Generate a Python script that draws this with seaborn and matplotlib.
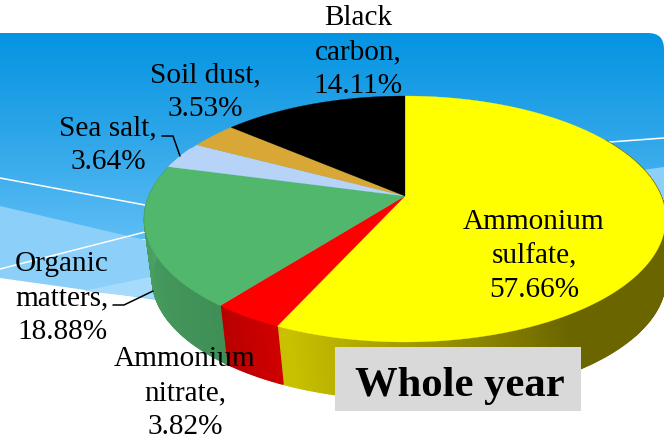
import numpy as np
import pandas as pd
import matplotlib
matplotlib.use('Agg')
import matplotlib.pyplot as plt
from matplotlib.patches import FancyBboxPatch, Polygon
import seaborn as sns

# dados
categorias = ['Ammonium\nsulfate', 'Ammonium\nnitrate', 'Organic\nmatters', 'Sea salt', 'Soil dust', 'Black\ncarbon']
valores = [57.66, 3.82, 18.88, 3.64, 3.53, 14.11]

cores = ['#FFFF00', '#FF0000', '#50B76C', '#B7D3F7', '#D8A735', '#000000']
cores_lado = ['#6B6500', '#B80000', '#459A5C', '#B7D3F7', '#D8A735', '#000000']
pos_texto = [(534, 256), (185, 393), (62, 298), (108, 145), (205, 92), (358, 52)]

df = pd.DataFrame({'categoria': categorias, 'valor': valores})
df['fim'] = df['valor'].cumsum() * 3.6
df['inicio'] = df['fim'] - df['valor'] * 3.6

sns.set_theme(style='white')
plt.rcParams['font.family'] = ['Liberation Serif', 'DejaVu Serif']

fig = plt.figure(figsize=(6.64, 4.39), dpi=100)
ax = fig.add_axes([0, 0, 1, 1])
ax.set_xlim(0, 664)
ax.set_ylim(439, 0)
ax.axis('off')


def projeta(graus, escala=1.0, dx=0, dy=0):
    # perspectiva do disco: o angulo corre no sentido horario a partir do topo
    g = np.interp(graus, [0, 315.1, 360], [0, 310.4, 360])
    t = np.radians(90 - g)
    u, v = np.cos(t), np.sin(t)
    den = 1 + 0.187 * v
    x = 405 + dx + escala * 256 * u / den
    y = 197 + dy - escala * 118.7 * v / den
    return x, y


# fundo azul com gradiente
fundo = np.linspace(0, 1, 256).reshape(-1, 1)
cmap = matplotlib.colors.LinearSegmentedColormap.from_list('fundo', ['#0494E2', '#2EA6E9', '#5DBDF5'])
img = ax.imshow(fundo, extent=(0, 664, 240, 34), cmap=cmap, aspect='auto', zorder=0)
forma = FancyBboxPatch((-30, 34), 694, 300, boxstyle='round,pad=0,rounding_size=16',
                       transform=ax.transData, fc='none', ec='none')
ax.add_patch(forma)
img.set_clip_path(forma)

ax.add_patch(Polygon([(0, 207), (145, 241), (664, 168), (664, 262), (157, 301), (0, 279)],
                     fc='#8CCFF8', ec='none', zorder=1))
ax.add_patch(Polygon([(83, 292), (150, 278), (160, 300)], fc='#A6DBFB', ec='none', zorder=1))
ax.plot([0, 145, 300], [179, 206, 240], color='white', lw=1.1, zorder=2)
ax.plot([0, 145, 400, 610, 664], [270, 233, 175, 143, 139], color='white', lw=1.1, zorder=2)

# parede lateral, faixa por faixa para fazer o gradiente
for i, fatia in df.iterrows():
    ini, fim = max(fatia['inicio'], 60), min(fatia['fim'], 300)
    if ini >= fim:
        continue
    passos = np.linspace(ini, fim, int(fim - ini) * 2 + 2)
    base = np.array(matplotlib.colors.to_rgb(cores_lado[i]))
    for a, b in zip(passos[:-1], passos[1:]):
        xs1, ys1 = projeta(np.array([a, b]))
        xs2, ys2 = projeta(np.array([b, a]), 0.985, 4, 60)
        meio = (a + b) / 2
        if i == 0:
            # amarelo fica mais claro perto do vermelho
            f = np.clip((meio - 150) / 55, 0, 1)
            cor = base + f * (np.array(matplotlib.colors.to_rgb('#C8C000')) - base)
        elif i == 2:
            f = np.clip((meio - 222) / 60, 0, 1)
            cor = np.array(matplotlib.colors.to_rgb('#3F8F56')) * (1 - f) + np.array(matplotlib.colors.to_rgb('#4DA566')) * f
        elif i == 1:
            f = (meio - fatia['inicio']) / (fatia['fim'] - fatia['inicio'])
            cor = np.array(matplotlib.colors.to_rgb('#D00000')) * (1 - f) + base * f
        else:
            cor = base
        ax.fill(np.r_[xs1, xs2], np.r_[ys1, ys2], fc=cor, ec=cor, lw=1.0, zorder=3)

# tampo da pizza
for i, fatia in df.iterrows():
    passos = np.linspace(fatia['inicio'], fatia['fim'], 200)
    xs, ys = projeta(passos)
    ax.fill(np.r_[405, xs], np.r_[197, ys], color=sns.color_palette(cores)[i], lw=0.2, zorder=4)

# guias
ax.plot([162, 173, 180], [137, 137, 157], color='black', lw=1.1, zorder=5)
ax.plot([113, 124, 153], [306, 306, 292], color='black', lw=1.1, zorder=5)

# rotulos
for i, fatia in df.iterrows():
    texto = f"{fatia['categoria']},\n{fatia['valor']:.2f}%"
    ax.text(pos_texto[i][0], pos_texto[i][1], texto, ha='center', va='center', fontsize=21.1,
            linespacing=1.38, color='black', zorder=6)

ax.add_patch(Polygon([(335, 348), (581, 348), (581, 412), (335, 412)], fc='#D9D9D9', ec='none', zorder=6))
ax.text(460, 386, 'Whole year', ha='center', va='center', fontsize=30.7, fontweight='bold',
        color='black', zorder=7)

plt.savefig('out.png', dpi=100)
